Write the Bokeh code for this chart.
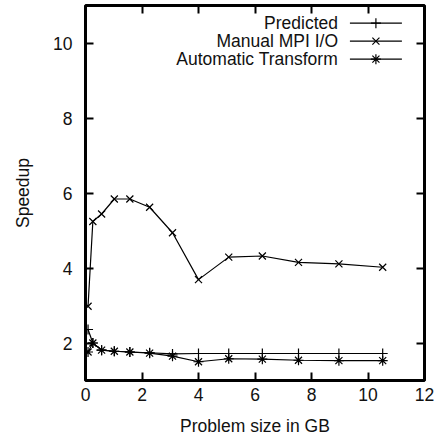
from bokeh.plotting import figure
from bokeh.models import LinearAxis, FixedTicker, Range1d, Label
from bokeh.embed import file_html
from bokeh.resources import INLINE

# ---- data ----
size_gb = [0.09, 0.26, 0.57, 1.02, 1.57, 2.27, 3.08, 4.0, 5.07, 6.26, 7.54, 8.97, 10.52]
predicted = [2.36, 2.00, 1.81, 1.78, 1.76, 1.74, 1.71, 1.72, 1.72, 1.72, 1.72, 1.72, 1.72]
manual_mpi = [2.98, 5.24, 5.44, 5.84, 5.84, 5.62, 4.94, 3.69, 4.29, 4.32, 4.15, 4.11, 4.02]
automatic = [1.76, 2.00, 1.81, 1.78, 1.76, 1.73, 1.65, 1.50, 1.58, 1.57, 1.54, 1.53, 1.53]

series_names = ["Predicted", "Manual MPI I/O", "Automatic Transform"]
series_markers = ["cross", "x", "asterisk"]
x_ticks = [0, 2, 4, 6, 8, 10, 12]
y_ticks = [2, 4, 6, 8, 10]

FONT = "Liberation Sans"
FS = "17.5px"

p = figure(width=445, height=443, output_backend="svg", toolbar_location=None,
           x_range=Range1d(0, 12), y_range=Range1d(1, 11),
           x_axis_location=None, y_axis_location=None,
           min_border_left=85, min_border_right=21, min_border_top=5, min_border_bottom=63)
p.grid.visible = False
p.background_fill_color = "white"
p.border_fill_color = "white"
p.outline_line_color = "black"
p.outline_line_width = 3


def make_axis(ticks, labels=True, label_text=None, tick_standoff=10, label_standoff=10):
    ax = LinearAxis(ticker=FixedTicker(ticks=ticks))
    ax.axis_line_color = None
    ax.major_tick_in = 8
    ax.major_tick_out = 0
    ax.major_tick_line_width = 2
    ax.major_tick_line_color = "black"
    ax.minor_tick_line_color = None
    ax.major_label_text_font = FONT
    ax.major_label_text_font_size = FS
    ax.major_label_text_color = "#111111"
    if labels:
        ax.major_label_standoff = tick_standoff
    else:
        ax.major_label_overrides = {t: "" for t in ticks}
        ax.major_label_standoff = 0
    if label_text:
        ax.axis_label = label_text
        ax.axis_label_text_font = FONT
        ax.axis_label_text_font_size = FS
        ax.axis_label_text_font_style = "normal"
        ax.axis_label_text_color = "#111111"
        ax.axis_label_standoff = label_standoff
    return ax


p.add_layout(make_axis(x_ticks, True, "Problem size in GB", 7, 12), "below")
p.add_layout(make_axis(y_ticks, True, "Speedup", 13, 17), "left")
p.add_layout(make_axis(x_ticks, False), "above")
p.add_layout(make_axis(y_ticks, False), "right")

for ys, mk in zip([predicted, manual_mpi, automatic], series_markers):
    p.line(size_gb, ys, line_color="black", line_width=1.2)
    p.scatter(size_gb, ys, marker=mk, size=10, line_color="black", line_width=1.2,
              fill_color=None)

# ---- gnuplot-style legend (text left, sample right) ----
leg_rows = [10.53, 10.05, 9.57]
for name, mk, yy in zip(series_names, series_markers, leg_rows):
    p.add_layout(Label(x=8.94, y=yy, text=name, text_align="right", text_baseline="middle",
                       text_font=FONT, text_font_size=FS, text_color="#111111"))
    p.line([9.36, 11.2], [yy, yy], line_color="black", line_width=1.2)
    p.scatter([10.28], [yy], marker=mk, size=10, line_color="black", line_width=1.2)

open("out.html", "w").write(file_html(p, INLINE))
